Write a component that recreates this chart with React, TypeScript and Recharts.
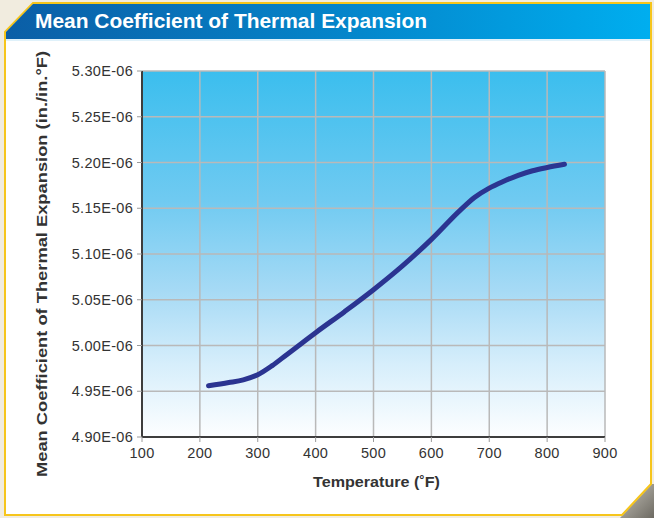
import React from 'react'
import {
  LineChart,
  Line,
  XAxis,
  YAxis,
  CartesianGrid,
} from 'recharts'

// values (°F, in./in./°F)
const TEMPS = [215, 250, 275, 300, 325, 350, 375, 400, 450, 500, 550, 600, 650, 675, 700, 725, 750, 775, 800, 830]
const CTE = [
  4.956e-6, 4.9595e-6, 4.9625e-6, 4.968e-6, 4.978e-6, 4.99e-6, 5.002e-6, 5.014e-6,
  5.037e-6, 5.061e-6, 5.087e-6, 5.116e-6, 5.148e-6, 5.162e-6, 5.172e-6, 5.1795e-6,
  5.186e-6, 5.191e-6, 5.1945e-6, 5.198e-6,
]
const X_TICKS = [100, 200, 300, 400, 500, 600, 700, 800, 900]
const Y_TICKS = [4.9e-6, 4.95e-6, 5.0e-6, 5.05e-6, 5.1e-6, 5.15e-6, 5.2e-6, 5.25e-6, 5.3e-6]

const TITLE = 'Mean Coefficient of Thermal Expansion'
const X_TITLE = 'Temperature (˚F)'
const Y_TITLE = 'Mean Coefficient of Thermal Expansion (in./in.°F)'

const W = 654
const H = 518
const FONT = '"Liberation Sans", Arial, sans-serif'
const LINE_COLOR = '#2b3491'
const GRID_COLOR = '#b9b9b9'
const AXIS_COLOR = '#3d3d3d'
const TEXT_COLOR = '#333333'

const data = TEMPS.map((t, i) => ({ t, v: CTE[i] }))

const fmtY = (v: number) => `${(v * 1e6).toFixed(2)}E-06`

function Frame() {
  return (
    <svg width={W} height={H} style={{ position: 'absolute', left: 0, top: 0 }}>
      <defs>
        <linearGradient id="titleBg" x1="0" y1="0" x2="1" y2="0">
          <stop offset="0%" stopColor="#0b5ea6" />
          <stop offset="55%" stopColor="#0487cc" />
          <stop offset="100%" stopColor="#00aeef" />
        </linearGradient>
        <linearGradient id="plotBg" x1="0" y1="0" x2="0" y2="1">
          <stop offset="0%" stopColor="#3bbeee" />
          <stop offset="35%" stopColor="#6fcaf1" />
          <stop offset="60%" stopColor="#a6daf5" />
          <stop offset="80%" stopColor="#d6eefb" />
          <stop offset="100%" stopColor="#fdfeff" />
        </linearGradient>
        <linearGradient id="shadow" x1="0" y1="0" x2="1" y2="1">
          <stop offset="0%" stopColor="#c9c6bd" />
          <stop offset="100%" stopColor="#6d6a62" />
        </linearGradient>
      </defs>
      <rect x={0} y={0} width={W} height={H} fill="#f1ecdf" />
      <polygon points="620,518 652,484 654,484 654,518" fill="url(#shadow)" />
      <polygon
        points="33,3 651,3 651,484 622,515 5,515 5,32"
        fill="#ffffff"
        stroke="#f6c51b"
        strokeWidth={2}
      />
      <polygon points="33,4 650,4 650,39 6,39 6,32" fill="url(#titleBg)" />
      <line x1={6} y1={40} x2={650} y2={40} stroke="#bfe3f6" strokeWidth={1} />
      <text
        x={35}
        y={28}
        fill="#ffffff"
        fontFamily={FONT}
        fontWeight="bold"
        fontSize={21}
        textLength={392}
        lengthAdjust="spacingAndGlyphs"
      >
        {TITLE}
      </text>
    </svg>
  )
}

const YTitle = (props: any) => {
  const { viewBox } = props
  const cx = 42
  const cy = viewBox.y + viewBox.height / 2 + 10
  return (
    <text
      x={cx}
      y={cy}
      transform={`rotate(-90, ${cx}, ${cy})`}
      textAnchor="middle"
      dominantBaseline="central"
      fill={TEXT_COLOR}
      fontFamily={FONT}
      fontWeight="bold"
      fontSize={14}
      textLength={426}
      lengthAdjust="spacingAndGlyphs"
    >
      {Y_TITLE}
    </text>
  )
}

const XTitle = (props: any) => {
  const { viewBox } = props
  const cx = viewBox.x + viewBox.width / 2 + 3
  return (
    <text
      x={cx}
      y={487}
      textAnchor="middle"
      fill={TEXT_COLOR}
      fontFamily={FONT}
      fontWeight="bold"
      fontSize={15}
      textLength={127}
      lengthAdjust="spacingAndGlyphs"
    >
      {X_TITLE}
    </text>
  )
}

const tickStyle = { fontSize: 14.5, fill: TEXT_COLOR, fontFamily: FONT, letterSpacing: 0.3 }

export default function App() {
  return (
    <div style={{ position: 'absolute', left: 0, top: 0, width: W, height: H }}>
      <Frame />
      <div style={{ position: 'absolute', left: 0, top: 0 }}>
        <LineChart
          width={W}
          height={H}
          data={data}
          margin={{ top: 71, right: 49, bottom: 36, left: 0 }}
        >
          <CartesianGrid
            stroke={GRID_COLOR}
            strokeWidth={1.5}
            fill="url(#plotBg)"
            fillOpacity={1}
          />
          <XAxis
            xAxisId="top"
            orientation="top"
            type="number"
            dataKey="t"
            domain={[100, 900]}
            ticks={X_TICKS}
            height={0}
            tick={false}
            tickLine={false}
            axisLine={{ stroke: AXIS_COLOR, strokeWidth: 2 }}
          />
          <YAxis
            yAxisId="right"
            orientation="right"
            type="number"
            domain={[Y_TICKS[0], Y_TICKS[Y_TICKS.length - 1]]}
            ticks={Y_TICKS}
            width={0}
            tick={false}
            tickLine={false}
            axisLine={{ stroke: AXIS_COLOR, strokeWidth: 2 }}
          />
          <XAxis
            type="number"
            dataKey="t"
            domain={[100, 900]}
            ticks={X_TICKS}
            interval={0}
            height={45}
            tick={tickStyle}
            tickSize={5}
            tickMargin={6}
            tickLine={{ stroke: '#9a9a9a' }}
            axisLine={{ stroke: AXIS_COLOR, strokeWidth: 2 }}
            label={<XTitle />}
          />
          <YAxis
            type="number"
            domain={[Y_TICKS[0], Y_TICKS[Y_TICKS.length - 1]]}
            ticks={Y_TICKS}
            interval={0}
            width={142}
            tick={tickStyle}
            tickSize={5}
            tickMargin={4}
            tickFormatter={fmtY}
            tickLine={{ stroke: '#9a9a9a' }}
            axisLine={{ stroke: AXIS_COLOR, strokeWidth: 2 }}
            label={<YTitle />}
          />
          <Line
            type="monotone"
            dataKey="v"
            stroke={LINE_COLOR}
            strokeWidth={5}
            strokeLinecap="round"
            dot={false}
            activeDot={false}
            isAnimationActive={false}
          />
        </LineChart>
      </div>
    </div>
  )
}
